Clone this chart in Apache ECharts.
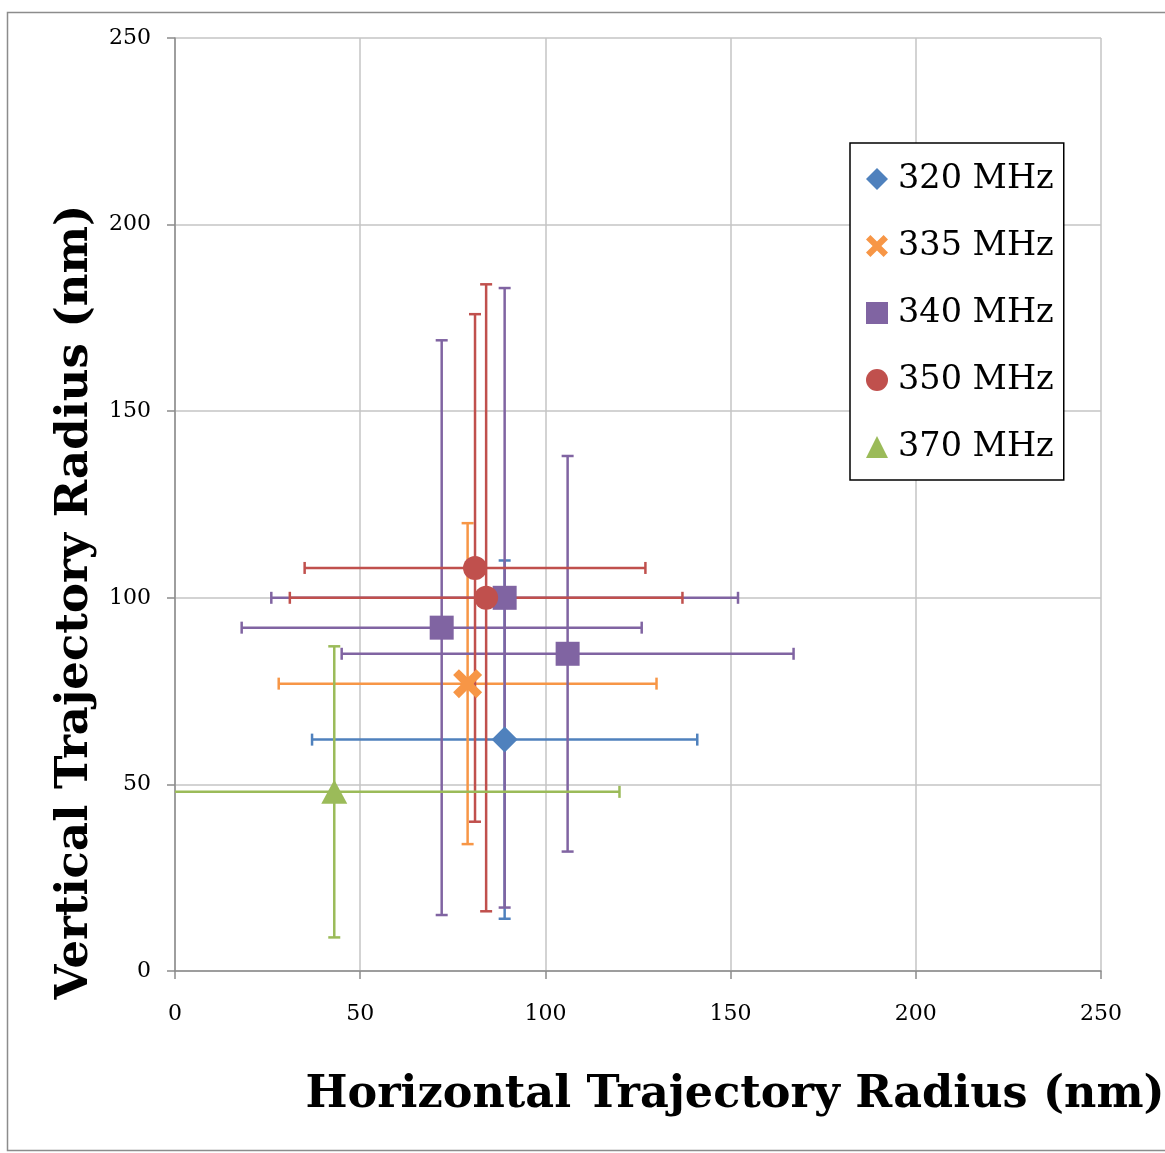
<!DOCTYPE html>
<html>
<head>
<meta charset="utf-8">
<script src="https://cdn.jsdelivr.net/npm/echarts@6/dist/echarts.min.js"></script>
<style>
html,body{margin:0;padding:0;background:#fff;}
#chart{width:1165px;height:1153px;}
</style>
</head>
<body>
<div id="chart"></div>
<script>
// Series names
const categories = ['320 MHz', '335 MHz', '340 MHz', '350 MHz', '370 MHz'];
// Each point: [x, y, xLow, xHigh, yLow, yHigh]
const pts320 = [[89, 62, 37, 141, 14, 110]];
const pts335 = [[79, 77, 28, 130, 34, 120]];
const pts340 = [[72, 92, 18, 126, 15, 169], [89, 100, 26, 152, 17, 183], [106, 85, 45, 167, 32, 138]];
const pts350 = [[81, 108, 35, 127, 40, 176], [84, 100, 31, 137, 16, 184]];
const pts370 = [[43, 48, -34, 120, 9, 87]];
// Axis ticks
const xTicks = [0, 50, 100, 150, 200, 250];
const yTicks = [0, 50, 100, 150, 200, 250];

const colors = ['#4F81BD', '#F79646', '#8064A2', '#C0504D', '#9BBB59'];
const xPath = 'path://M2,0 L5,3 L8,0 L10,2 L7,5 L10,8 L8,10 L5,7 L2,10 L0,8 L3,5 L0,2 Z';
const symbols = ['diamond', xPath, 'rect', 'circle', 'triangle'];
const symSizes = [[26, 26], [29, 29], [24, 24], [24, 24], [26, 24]];
const allPts = [pts320, pts335, pts340, pts350, pts370];
const FONT = '"DejaVu Serif", "Liberation Serif", serif';

function errRender(color) {
  return function (params, api) {
    const x = api.value(0), y = api.value(1);
    const xl = api.value(2), xh = api.value(3), yl = api.value(4), yh = api.value(5);
    const cap = 6;
    const style = { stroke: color, lineWidth: 2.5 };
    const ch = [];
    const xlc = Math.max(xl, 0), ylc = Math.max(yl, 0);
    const pL = api.coord([xlc, y]), pR = api.coord([xh, y]);
    ch.push({ type: 'line', shape: { x1: pL[0], y1: pL[1], x2: pR[0], y2: pR[1] }, style });
    if (xl >= 0) ch.push({ type: 'line', shape: { x1: pL[0], y1: pL[1] - cap, x2: pL[0], y2: pL[1] + cap }, style });
    ch.push({ type: 'line', shape: { x1: pR[0], y1: pR[1] - cap, x2: pR[0], y2: pR[1] + cap }, style });
    const pB = api.coord([x, ylc]), pT = api.coord([x, yh]);
    ch.push({ type: 'line', shape: { x1: pB[0], y1: pB[1], x2: pT[0], y2: pT[1] }, style });
    if (yl >= 0) ch.push({ type: 'line', shape: { x1: pB[0] - cap, y1: pB[1], x2: pB[0] + cap, y2: pB[1] }, style });
    ch.push({ type: 'line', shape: { x1: pT[0] - cap, y1: pT[1], x2: pT[0] + cap, y2: pT[1] }, style });
    return { type: 'group', children: ch };
  };
}

const series = [];
allPts.forEach((pts, i) => {
  series.push({
    type: 'custom',
    name: categories[i] + ' err',
    renderItem: errRender(colors[i]),
    data: pts,
    encode: { x: 0, y: 1 },
    z: 2,
    silent: true
  });
});
allPts.forEach((pts, i) => {
  series.push({
    type: 'scatter',
    name: categories[i],
    data: pts.map(p => [p[0], p[1]]),
    symbol: symbols[i],
    symbolSize: symSizes[i],
    itemStyle: { color: colors[i], opacity: 1 },
    z: 5 + i
  });
});

const axisCommon = {
  type: 'value', min: 0, max: 250, interval: 50,
  axisLine: { show: true, lineStyle: { color: '#8C8C8C', width: 1.5 } },
  axisTick: { show: true, length: 8, lineStyle: { color: '#8C8C8C', width: 1.5 } },
  splitLine: { show: true, lineStyle: { color: '#C4C4C4', width: 1.5 } },
};

const chart = echarts.init(document.getElementById('chart'), null, { renderer: 'canvas' });
chart.setOption({
  backgroundColor: '#fff',
  animation: false,
  grid: { left: 175, top: 38, right: 64, bottom: 182 },
  xAxis: Object.assign({}, axisCommon, {
    axisLabel: { fontFamily: FONT, fontSize: 22, color: '#000', margin: 32,
      formatter: v => xTicks.includes(v) ? String(v) : '' }
  }),
  yAxis: Object.assign({}, axisCommon, {
    axisLabel: { fontFamily: FONT, fontSize: 22, color: '#000', margin: 24,
      formatter: v => yTicks.includes(v) ? String(v) : '' }
  }),
  legend: {
    orient: 'vertical', left: 850, top: 143,
    padding: [16, 10, 13, 16],
    itemWidth: 22, itemHeight: 22, itemGap: 27,
    borderColor: '#000', borderWidth: 1.5, backgroundColor: '#fff',
    selectedMode: false,
    textStyle: { fontFamily: FONT, fontSize: 33.5, color: '#000', lineHeight: 40, padding: [0, 0, 0, 5] },
    data: categories.map((c, i) => ({ name: c, icon: symbols[i], itemStyle: { color: colors[i] } }))
  },
  graphic: [
    { type: 'rect', shape: { x: 7.5, y: 12.5, width: 1170, height: 1138 }, style: { fill: 'none', stroke: '#8C8C8C', lineWidth: 1.5 }, z: -10, silent: true },
    { type: 'text', x: 735, y: 1095, style: { text: 'Horizontal Trajectory Radius (nm)', font: 'bold 44.5px ' + FONT, fill: '#000', align: 'center', verticalAlign: 'middle' } },
    { type: 'text', x: 75, y: 602, rotation: Math.PI / 2, style: { text: 'Vertical Trajectory Radius (nm)', font: 'bold 45px ' + FONT, fill: '#000', align: 'center', verticalAlign: 'middle' } }
  ],
  series: series
});
</script>
</body>
</html>
